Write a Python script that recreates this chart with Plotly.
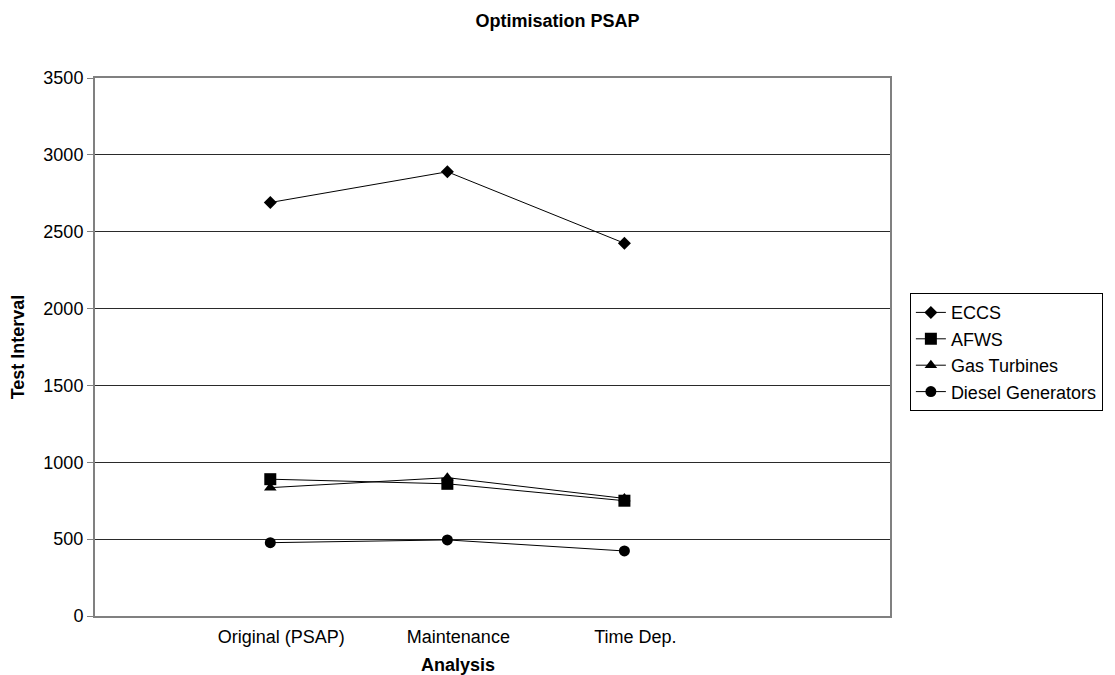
import plotly.graph_objects as go

categories = ["Original (PSAP)", "Maintenance", "Time Dep."]
eccs = [2690, 2890, 2425]
afws = [890, 860, 750]
gas_turbines = [835, 900, 765]
diesel_generators = [477, 495, 423]
y_ticks = [0, 500, 1000, 1500, 2000, 2500, 3000, 3500]

FONT = "Arial, Liberation Sans, sans-serif"
xpos = list(range(len(categories)))

series = [
    ("ECCS", eccs, "diamond", 10),
    ("AFWS", afws, "square", 12),
    ("Gas Turbines", gas_turbines, "triangle-up", 11),
    ("Diesel Generators", diesel_generators, "circle", 11),
]

fig = go.Figure()
for name, vals, sym, sz in series:
    fig.add_trace(go.Scatter(
        x=xpos, y=vals, name=name, mode="lines+markers",
        line=dict(color="black", width=1),
        marker=dict(symbol=sym, size=sz, color="black"),
    ))

fig.update_layout(
    width=1115, height=675,
    margin=dict(l=95, r=221, t=78, b=59),
    paper_bgcolor="white", plot_bgcolor="white",
    font=dict(family=FONT, size=18, color="black"),
    title=dict(text="<b>Optimisation PSAP</b>", x=0.5, xref="container",
               y=1 - 21 / 675, yref="container", yanchor="middle",
               xanchor="center", font=dict(size=18, family=FONT, color="black")),
    legend=dict(x=1.025, y=0.6, xanchor="left", yanchor="top",
                bordercolor="black", borderwidth=1, bgcolor="white",
                font=dict(size=18, family=FONT), tracegroupgap=0),
    showlegend=True,
)

fig.update_xaxes(
    range=[-0.99, 3.5], tickmode="array", tickvals=xpos, ticktext=categories,
    showgrid=False, zeroline=False,
    showline=True, linecolor="#808080", linewidth=2, mirror=True,
    ticks="outside", ticklen=0, ticklabelstandoff=3, ticklabelshift=11,
    tickfont=dict(size=18, family=FONT, color="black"),
)
fig.update_yaxes(
    range=[0, 3500], tickmode="array", tickvals=y_ticks,
    showgrid=True, gridcolor="#2a2a2a", gridwidth=1, zeroline=False,
    showline=True, linecolor="#808080", linewidth=2, mirror=True,
    ticks="outside", ticklen=6, tickcolor="#808080",
    tickfont=dict(size=18, family=FONT, color="black"),
    title=dict(text="<b>Test Interval</b>", font=dict(size=18, family=FONT), standoff=14),
)

fig.add_annotation(
    text="<b>Analysis</b>", xref="paper", yref="paper",
    x=(460 - 95) / 799, y=-(665 - 616) / 538, xanchor="center", yanchor="middle",
    showarrow=False, font=dict(size=18, family=FONT, color="black"),
)

fig.write_html("out.html")
